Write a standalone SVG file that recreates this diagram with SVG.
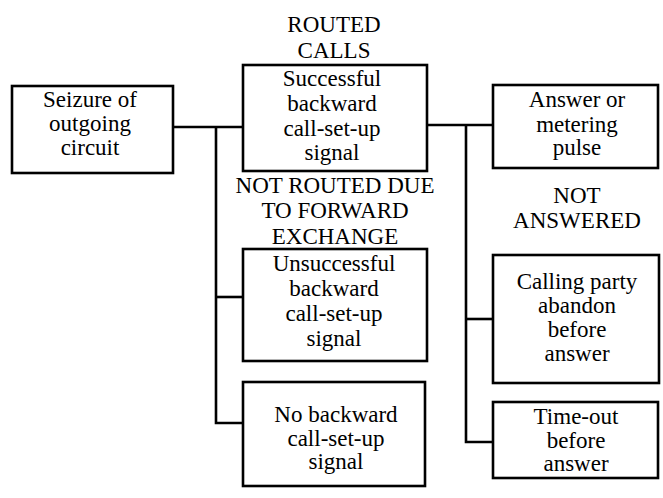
<svg xmlns="http://www.w3.org/2000/svg" width="663" height="498" viewBox="0 0 663 498">
  <style>
    .box { fill: #ffffff; stroke: #000000; stroke-width: 2.6; }
    .wire { fill: none; stroke: #000000; stroke-width: 2.6; stroke-linejoin: miter; }
    .lbl { font-family: 'Liberation Serif', 'DejaVu Serif', 'Times New Roman', serif; font-size: 23px; fill: #000000; text-anchor: middle; }
  </style>
  <rect width="663" height="498" fill="#ffffff"/>

  <!-- connectors -->
  <g id="connectors">
    <path class="wire" d="M173 127 H243"/>
    <path class="wire" d="M216 127 V423 H243"/>
    <path class="wire" d="M216 297 H243"/>
    <path class="wire" d="M427 125 H493"/>
    <path class="wire" d="M466 125 V442 H493"/>
    <path class="wire" d="M466 319 H493"/>
  </g>

  <g class="lbl" font-family="Liberation Serif, DejaVu Serif, serif">
    <!-- group headings -->
    <g id="heading-routed">
      <text x="334" y="32">ROUTED</text>
      <text x="334" y="58">CALLS</text>
    </g>
    <g id="heading-not-routed">
      <text x="335" y="193">NOT ROUTED DUE</text>
      <text x="335" y="218">TO FORWARD</text>
      <text x="335" y="244">EXCHANGE</text>
    </g>
    <g id="heading-not-answered">
      <text x="577" y="203">NOT</text>
      <text x="577" y="228">ANSWERED</text>
    </g>

    <!-- nodes -->
    <g id="seizure">
      <rect class="box" x="12" y="86" width="161" height="87"/>
      <text x="90" y="107">Seizure of</text>
      <text x="90" y="131">outgoing</text>
      <text x="90" y="155">circuit</text>
    </g>

    <g id="successful">
      <rect class="box" x="243" y="65" width="184" height="106"/>
      <text x="332" y="86">Successful</text>
      <text x="332" y="111">backward</text>
      <text x="332" y="136">call-set-up</text>
      <text x="332" y="160">signal</text>
    </g>

    <g id="unsuccessful">
      <rect class="box" x="243" y="249" width="184" height="112"/>
      <text x="334" y="271">Unsuccessful</text>
      <text x="334" y="296">backward</text>
      <text x="334" y="321">call-set-up</text>
      <text x="334" y="346">signal</text>
    </g>

    <g id="no-backward">
      <rect class="box" x="243" y="382" width="182" height="104"/>
      <text x="336" y="422">No backward</text>
      <text x="336" y="446">call-set-up</text>
      <text x="336" y="469">signal</text>
    </g>

    <g id="answer">
      <rect class="box" x="493" y="85" width="165" height="83"/>
      <text x="577" y="107">Answer or</text>
      <text x="577" y="132">metering</text>
      <text x="577" y="155">pulse</text>
    </g>

    <g id="abandon">
      <rect class="box" x="493" y="255" width="166" height="128"/>
      <text x="577" y="289">Calling party</text>
      <text x="577" y="313">abandon</text>
      <text x="577" y="337">before</text>
      <text x="577" y="361">answer</text>
    </g>

    <g id="time-out">
      <rect class="box" x="493" y="402" width="165" height="76"/>
      <text x="576" y="424">Time-out</text>
      <text x="576" y="448">before</text>
      <text x="576" y="471">answer</text>
    </g>
  </g>
</svg>
